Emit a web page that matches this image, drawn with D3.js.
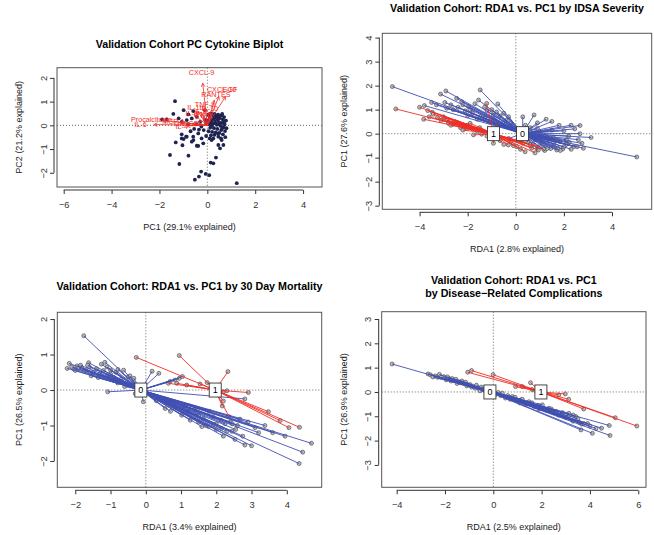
<!DOCTYPE html>
<html><head><meta charset="utf-8">
<script src="https://cdn.jsdelivr.net/npm/d3@7"></script>
<style>
body{margin:0;background:#fff;}
text{font-family:"Liberation Sans",Arial,Helvetica,sans-serif;}
</style></head><body>
<svg id="chart" width="654" height="535"></svg>
<script>
// ---- panel 1: PC cytokine biplot ----
const bipScores = [[-1.35,1.02],[1.23,-2.44],[-1.56,-1.25],[-1.17,-1.63],[-0.79,-1.28],[-1.32,-0.72],[-1.04,-0.84],[-0.52,-2.29],[-0.35,-2.16],[-0.26,-1.95],[-0.07,-2.05],[0.08,-2.1],[0.14,-1.57],[0.25,-1.6],[0.36,-1.36],[-0.38,-0.87],[-0.58,-0.62],[-1.07,-0.55],[-0.86,-0.48],[0.46,-0.83],[0.57,-0.55],[0.74,-0.24],[-0.17,-0.76],[0.18,-0.62],[-1.42,0.48],[-1.89,0.25],[-1.7,0.25],[-0.99,0.64],[-0.79,0.46],[-0.59,0.6],[-0.1,0.64],[-1.2,0.29],[-1.07,0.15],[-0.86,0.22],[-0.65,0.29],[-0.44,0.36],[-0.3,0.15],[-0.09,0.22],[-1.07,-0.38],[-0.99,-0.58],[-0.89,-0.48],[-0.59,-0.48],[-0.38,-0.34],[-0.24,-0.55],[-0.65,-0.69],[-0.44,-0.86],[0.25,-0.55],[0.46,-0.48],[0.6,-0.62],[0.67,-0.83],[0.53,-0.97],
  [0.05,0.45],[0.15,0.5],[0.3,0.48],[0.45,0.45],[0.6,0.42],[0.7,0.35],[0.1,0.35],[0.25,0.38],[0.38,0.32],[0.52,0.3],[0.65,0.25],[0.78,0.2],[0.02,0.2],[0.18,0.22],[0.32,0.18],[0.48,0.15],[0.6,0.1],[0.72,0.05],[0.08,0.05],[0.22,0.08],[0.4,0.02],[0.55,-0.02],[0.68,-0.08],[0.8,-0.12],[0.12,-0.1],[0.28,-0.12],[0.42,-0.15],[0.58,-0.2],[0.05,-0.25],[0.2,-0.28],[0.35,-0.3],[0.5,-0.32],[0.65,-0.38],[0.15,-0.42],[0.3,-0.4],[0.45,-0.35],[0.75,-0.5],[0.35,0.42],[0.5,0.38],[0.62,0.48],[0.42,0.25],[0.25,0.28],[0.7,0.15],[0.15,0.12],[0.35,0.08],[0.5,0.05],[0.62,-0.12],[0.2,-0.02],[-0.05,0.1],[-0.15,-0.2],[-0.25,-0.05],[-0.45,0.05],[-0.55,-0.15],[-0.7,-0.25],[-0.8,0.05],[-0.35,-0.18],[0.1,-0.55],[-0.05,-0.45]];
const cytokines = ["CXCL-9","CXCL-10","EGF","RANTES","TNF-a","IL-1b","IL-10","IL-2","IL-8","IFN-g","Procalcitonin","IL-6","MCP-1","IL-4","GM-CSF"];
const loadings = [[-0.24,2.22],[0.6,1.52],[0.95,1.52],[0.36,1.32],[-0.1,0.88],[-0.5,0.74],[0.1,0.7],[-0.3,0.6],[-0.65,0.52],[-0.2,0.45],[-2.33,0.25],[-2.79,0.04],[-1.42,0.15],[-1.07,-0.03],[-0.79,0.08]];

// ---- panel 2: IDSA severity ----
const sevCentroids = [[0.28,0],[-0.93,0]];
const sevGroup0 = [[-5.13,1.96],[-3.13,1.65],[-2.91,1.78],[-3.8,1.17],[-2.87,1.06],[-2.46,1.47],[-2.25,1.33],[-1.97,1.13],[-1.48,1.82],[-1.55,1.40],[-0.75,1.24],[-1.80,0.85],[-1.48,0.71],[-0.94,0.78],[-0.66,0.74],[-2.6,1.0],[-2.1,0.95],[-1.2,0.95],[-0.4,0.55],[-1.1,0.5],
  [-3.5,1.3],[-3.3,1.2],[-2.95,1.3],[-2.7,1.2],[-2.4,1.1],[-2.2,1.2],[-1.9,1.0],[-1.7,1.25],[-1.3,1.1],[-1.0,1.0],[-0.8,0.9],[-0.5,0.85],[-0.3,0.7],[-1.6,0.6],[-2.0,0.75],[-1.3,0.65],[-0.9,0.6],[-0.2,0.45],
  [0.29,0.70],[0.76,0.78],[1.26,0.60],[1.50,0.51],[2.67,0.34],[2.45,0.2],[2.0,0.12],[2.67,0.0],[3.13,-0.16],[5.03,-0.97],[1.01,0.04],[0.6,0.25],[0.9,0.22],[1.56,-0.16],[1.84,-0.33],[2.22,-0.36],[1.95,-0.64],[2.4,-0.54],[2.81,-0.61],[1.22,-0.54],[1.70,-0.68],[2.1,-0.45],[1.6,-0.45],[1.4,-0.3],[1.1,-0.35],[0.8,-0.25],[1.3,-0.15],[1.75,-0.6],[2.0,-0.55],[1.55,-0.55],[1.85,-0.7],[2.55,-0.55],[1.2,-0.7],[0.5,-0.35],[0.2,-0.3],[-0.3,-0.2],[0.95,-0.55],[1.45,-0.62],[2.3,-0.65],[0.4,0.35],
  [0.9,0.45],[1.8,0.35],[2.3,0.35],[1.5,0.15],[2.2,-0.1],[2.6,-0.25],[1.2,-0.1],[0.7,-0.45],[0.9,-0.65],[1.65,-0.25],[2.1,-0.25],[1.0,-0.2],[2.75,-0.4],[1.3,-0.62]];
const sevGroup1 = [[-4.99,1.03],[-4.0,1.10],[-3.66,0.96],[-3.47,0.89],[-3.43,0.81],[-3.83,0.6],[-3.26,0.67],[-2.87,0.57],[-2.80,0.43],[-2.52,0.50],[-2.17,0.36],[-2.04,0.22],[-1.90,0.43],[-1.21,1.26],[-1.76,-0.05],[-1.42,-0.02],[-0.93,-0.40],[-0.65,-0.29],[-0.31,-0.47],[0.04,-0.54],[0.39,-0.75],[0.66,-0.61],[0.94,-0.68],[1.15,-0.64],[0.6,-0.45],[0.3,-0.4],[-0.2,-0.3],[-2.3,0.25],[-2.6,0.4],[-3.0,0.7],[-1.6,0.1],[-0.8,0.4],
  [-3.1,0.55],[-2.7,0.35],[-2.4,0.45],[-2.0,0.35],[-1.8,0.2],[-3.6,0.7],[-2.2,0.15],[-1.5,0.25],[-1.2,-0.1],[-0.5,-0.45],[0.2,-0.65],[0.8,-0.8],[1.0,-0.55],[-0.1,-0.5]];

// ---- panel 3: 30 day mortality ----
const morCentroids = [[-0.14,0],[1.97,0]];
const morGroup0 = [[-1.76,1.53],[-2.17,0.75],[-2.23,0.61],[-1.95,0.68],[-1.85,0.70],[-1.62,0.77],[-1.26,0.73],[-1.16,0.78],[-1.0,0.56],[-0.79,0.58],[-0.63,0.56],[-0.50,0.37],[-0.34,0.33],[0.18,0.53],[0.37,0.47],[0.69,0.24],[0.83,0.28],[0.95,0.33],[1.04,0.38],[-2.05,0.6],[-1.7,0.55],[-1.5,0.5],[-1.3,0.45],[-1.1,0.4],[-0.9,0.35],[-0.7,0.3],[-1.08,-0.05],[-0.6,0.1],[-0.4,0.15],[-0.07,-0.33],[-0.3,-0.1],
  [-2.1,0.65],[-1.9,0.62],[-1.8,0.6],[-1.6,0.65],[-1.4,0.6],[-1.2,0.55],[-1.0,0.45],[-0.85,0.5],[-0.5,0.2],[-0.2,0.05],[-2.0,0.55],[-1.55,0.4],[-1.35,0.35],[-0.8,0.2],[-0.45,0.4],[-1.65,0.7],[-1.1,0.65],
  [2.81,-0.25],[4.7,-1.5],[4.45,-1.75],[4.35,-2.07],[3.95,-1.3],[3.38,-1.0],[3.1,-1.06],[2.67,-0.82],[2.55,-1.11],[2.44,-1.16],[2.3,-1.16],[2.15,-1.08],[2.0,-1.11],[1.92,-0.99],[1.78,-1.03],[1.63,-0.8],[1.4,-0.56],[1.02,-0.71],[0.83,-0.47],[0.55,-0.52],[2.81,-1.55],[3.0,-1.57],[2.53,-1.39],[1.59,-1.03],[2.13,-0.85],[1.26,-0.85],[1.9,-0.75],[2.4,-0.9],[2.2,-1.3],[0.3,-0.3],[1.1,-0.45],[1.5,-0.7],[2.75,-1.3],
  [1.5,-0.9],[2.0,-0.95],[2.6,-1.0],[3.2,-1.2],[1.8,-0.6],[2.25,-0.95],[0.7,-0.6],[1.2,-0.6],[2.9,-0.9],[3.6,-1.2],[1.7,-1.0],[2.45,-0.95]];
const morGroup1 = [[-0.27,0.92],[0.95,0.97],[2.33,0.52],[2.91,-0.07],[2.2,-0.31],[2.17,-0.45],[2.36,-0.75],[3.48,-0.61],[3.81,-0.86],[4.06,-1.06],[4.36,-1.05],[1.74,0.21],[1.54,0.17],[0.88,0.19],[0.64,0.19],[1.16,0.14],[2.2,-0.05],[2.3,-0.02]];

// ---- panel 4: disease-related complications ----
const cmpCentroids = [[-0.14,0],[1.97,0]];
const cmpGroup0 = [[-4.19,1.15],[-2.70,0.74],[-2.40,0.66],[-2.23,0.72],[-2.05,0.63],[-1.84,0.56],[-1.64,0.49],[-1.43,0.42],[-1.23,0.36],[-1.02,0.29],[-0.81,0.22],[-0.61,0.15],[-0.4,0.08],[-2.3,0.6],[-1.95,0.5],[-1.7,0.55],[-1.5,0.35],[-1.3,0.45],[-0.9,0.2],[-0.7,0.28],[-0.55,0.05],[-0.35,0.15],[0.1,-0.1],[0.37,-0.05],[0.79,-0.19],[1.13,-0.33],[1.48,-0.40],[2.03,-0.53],[2.3,-0.67],[2.86,-0.85],[3.13,-0.88],[3.42,-1.01],[3.66,-1.32],[3.63,-1.56],[4.1,-1.70],[4.48,-1.49],[4.8,-1.38],[4.83,-1.79],[0.5,-0.25],[0.95,-0.35],[1.3,-0.5],[1.7,-0.6],[2.5,-0.85],[2.7,-0.95],[3.0,-1.05],[3.3,-1.2],[3.9,-1.3],[1.9,-0.7],[2.2,-0.75],[0.6,-0.15],[1.1,-0.45],[3.5,-1.1],[-0.2,0.05],
  [-2.6,0.7],[-2.5,0.62],[-2.15,0.6],[-1.9,0.62],[-1.75,0.45],[-1.55,0.52],[-1.35,0.38],[-1.15,0.4],[-1.1,0.25],[-0.95,0.3],[-0.75,0.15],[-0.5,0.2],[-0.3,0.0],[0.2,-0.02],[0.3,-0.15],[0.7,-0.3],[0.9,-0.22],[1.2,-0.3],[1.4,-0.5],[1.6,-0.45],[1.85,-0.55],[2.1,-0.7],[2.4,-0.7],[2.6,-0.8],[2.8,-0.95],[3.1,-1.0],[3.3,-0.95],[3.55,-1.25],[3.75,-1.3],[4.0,-1.4],[4.25,-1.5]];
const cmpGroup1 = [[-1.06,0.81],[-0.90,0.88],[-0.01,0.71],[0.92,0.22],[1.2,0.22],[1.54,0.38],[2.71,-0.12],[2.98,-0.08],[3.12,-0.3],[3.74,-0.7],[5.05,-1.06],[5.94,-1.4],[1.6,0.1],[1.75,0.05]];

const groupLabels = ["0","1"];

const svg = d3.select("#chart");
svg.append("rect").attr("width",654).attr("height",535).attr("fill","#fff");

const BLUE = "#3f4fb2", RED = "#f22b25";

function frame(cfg){
	const g = svg.append("g");
	const x = d3.scaleLinear().domain(cfg.xd).range([cfg.l,cfg.r]);
	const y = d3.scaleLinear().domain(cfg.yd).range([cfg.b,cfg.t]);
	// axes, R style: offset from box, line only between end ticks
	const xa = g.append("g")
		.attr("transform",`translate(0,${cfg.b+3})`)
		.call(d3.axisBottom(x).tickValues(cfg.xt).tickSize(4).tickFormat(d3.format("d")));
	xa.select(".domain").remove();
	xa.append("line").attr("x1",x(cfg.xt[0])).attr("x2",x(cfg.xt[cfg.xt.length-1])).attr("stroke","#333");
	xa.selectAll("text").attr("y",11);
	const ya = g.append("g")
		.attr("transform",`translate(${cfg.l-3},0)`)
		.call(d3.axisLeft(y).tickValues(cfg.yt).tickSize(4).tickFormat(d3.format("d")));
	ya.select(".domain").remove();
	ya.append("line").attr("y1",y(cfg.yt[0])).attr("y2",y(cfg.yt[cfg.yt.length-1])).attr("stroke","#333");
	ya.selectAll("text").attr("x",0).attr("dy",null).attr("y",-7.5)
		.attr("transform","rotate(-90)").attr("text-anchor","middle");
	[xa,ya].forEach(a=>a.attr("font-size",9.3).attr("font-family",null).attr("color","#333"));

	// zero reference lines
	g.append("line").attr("x1",cfg.l).attr("x2",cfg.r).attr("y1",y(0)).attr("y2",y(0))
		.attr("stroke","#666").attr("stroke-dasharray","1,2");
	g.append("line").attr("x1",x(0)).attr("x2",x(0)).attr("y1",cfg.t).attr("y2",cfg.b)
		.attr("stroke","#666").attr("stroke-dasharray","1,2");

	const cx = (cfg.l+cfg.r)/2;
	cfg.title.forEach((t,i)=>{
		g.append("text").attr("x",cx).attr("y",cfg.t-cfg.titleOff+i*13)
			.attr("text-anchor","middle").attr("font-weight","bold").attr("font-size",10.7).text(t);
	});
	g.append("text").attr("x",cx).attr("y",cfg.b+43).attr("text-anchor","middle")
		.attr("font-size",9).attr("fill","#222").text(cfg.xlab);
	g.append("text").attr("transform",`translate(${cfg.l-35},${(cfg.t+cfg.b)/2}) rotate(-90)`)
		.attr("text-anchor","middle").attr("font-size",9).attr("fill","#222").text(cfg.ylab);
	return {g,x,y,cfg};
}

function box(p){
	p.g.append("rect").attr("x",p.cfg.l).attr("y",p.cfg.t)
		.attr("width",p.cfg.r-p.cfg.l).attr("height",p.cfg.b-p.cfg.t)
		.attr("fill","none").attr("stroke","#555").attr("stroke-width",1);
}

// ---------- panel 1 ----------
const p1 = frame({l:57,r:322,t:67.7,b:187,xd:[-6.28,4.79],yd:[-2.6,2.43],
	xt:[-6,-4,-2,0,2,4],yt:[-2,-1,0,1,2],titleOff:20,
	title:["Validation Cohort PC Cytokine Biplot"],
	xlab:"PC1 (29.1% explained)",ylab:"PC2 (21.2% explained)"});
p1.g.append("g").selectAll("circle").data(bipScores).join("circle")
	.attr("cx",d=>p1.x(d[0])).attr("cy",d=>p1.y(d[1])).attr("r",1.9)
	.attr("fill","#1e2350");
const arr = p1.g.append("g").attr("stroke",RED).attr("stroke-width",0.8);
loadings.forEach(d=>{
	const x0 = p1.x(0), y0 = p1.y(0);
	const x1 = p1.x(d[0]*0.8), y1 = p1.y(d[1]*0.8);
	arr.append("line").attr("x1",x0).attr("y1",y0).attr("x2",x1).attr("y2",y1);
	const a = Math.atan2(y1-y0,x1-x0);
	[-0.5,0.5].forEach(o=>{
		arr.append("line").attr("x1",x1).attr("y1",y1)
			.attr("x2",x1-4*Math.cos(a+o)).attr("y2",y1-4*Math.sin(a+o));
	});
});
p1.g.append("g").selectAll("text").data(loadings).join("text")
	.attr("x",d=>p1.x(d[0])).attr("y",d=>p1.y(d[1])).attr("dy","0.35em")
	.attr("text-anchor","middle").attr("font-size",7.2).attr("fill",RED)
	.text((d,i)=>cytokines[i]);
box(p1);

// ---------- spider panels ----------
function spider(p, groups, centroids){
	const colors = [BLUE,RED];
	// points first, spider lines over them, then centroid labels
	groups.forEach(pts=>{
		p.g.append("g").selectAll("circle").data(pts).join("circle")
			.attr("cx",d=>p.x(d[0])).attr("cy",d=>p.y(d[1])).attr("r",2)
			.attr("fill","#bdbdbd").attr("stroke","#3a3a3a").attr("stroke-width",0.6);
	});
	groups.forEach((pts,gi)=>{
		p.g.append("g").attr("stroke",colors[gi]).attr("stroke-width",0.9)
			.selectAll("line").data(pts).join("line")
			.attr("x1",d=>p.x(d[0])).attr("y1",d=>p.y(d[1]))
			.attr("x2",p.x(centroids[gi][0])).attr("y2",p.y(centroids[gi][1]));
	});
	centroids.forEach((c,i)=>{
		const cx = p.x(c[0]), cy = p.y(c[1]);
		p.g.append("rect").attr("x",cx-6).attr("y",cy-7).attr("width",12).attr("height",14)
			.attr("fill","#fff").attr("stroke","#333").attr("stroke-width",0.9);
		p.g.append("text").attr("x",cx).attr("y",cy).attr("dy","0.35em").attr("text-anchor","middle")
			.attr("font-size",9).text(groupLabels[i]);
	});
	box(p);
}

const p2 = frame({l:382.3,r:651.7,t:33.3,b:209.3,xd:[-5.55,5.65],yd:[-3.15,4.18],
	xt:[-4,-2,0,2,4],yt:[-3,-2,-1,0,1,2,3,4],titleOff:21,
	title:["Validation Cohort: RDA1 vs. PC1 by IDSA Severity"],
	xlab:"RDA1 (2.8% explained)",ylab:"PC1 (27.6% explained)"});
spider(p2,[sevGroup0,sevGroup1],sevCentroids);

const p3 = frame({l:57.3,r:321.7,t:312.3,b:487.3,xd:[-2.51,4.99],yd:[-2.74,2.19],
	xt:[-2,-1,0,1,2,3,4],yt:[-2,-1,0,1,2],titleOff:22,
	title:["Validation Cohort: RDA1 vs. PC1 by 30 Day Mortality"],
	xlab:"RDA1 (3.4% explained)",ylab:"PC1 (26.5% explained)"});
spider(p3,[morGroup0,morGroup1],morCentroids);

const p4 = frame({l:381.7,r:646,t:311.7,b:487.3,xd:[-4.62,6.32],yd:[-3.92,3.30],
	xt:[-4,-2,0,2,4,6],yt:[-3,-2,-1,0,1,2,3],titleOff:28,
	title:["Validation Cohort: RDA1 vs. PC1","by Disease\u2212Related Complications"],
	xlab:"RDA1 (2.5% explained)",ylab:"PC1 (26.9% explained)"});
spider(p4,[cmpGroup0,cmpGroup1],cmpCentroids);
</script>
</body></html>
